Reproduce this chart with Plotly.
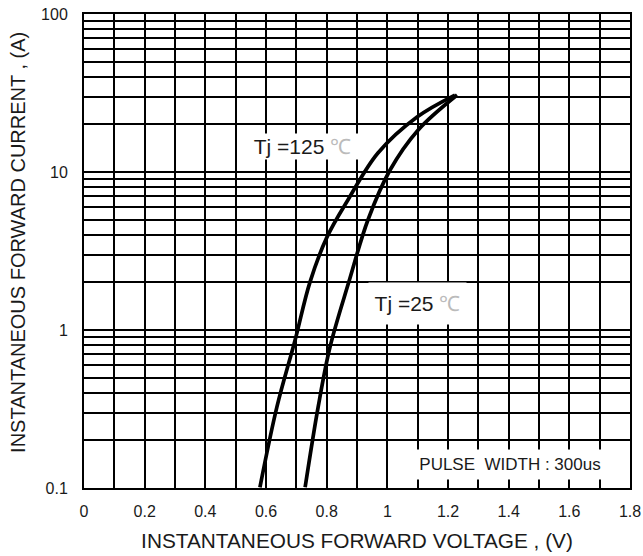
import plotly.graph_objects as go

# Data
v_125 = [0.580, 0.636, 0.696, 0.745, 0.801, 0.870, 0.969, 1.098, 1.223]
i_125 = [0.101, 0.326, 0.864, 2.01, 3.87, 6.65, 13.2, 22.3, 30.7]
v_25 = [0.729, 0.772, 0.811, 0.874, 0.936, 1.009, 1.101, 1.230]
i_25 = [0.101, 0.326, 0.78, 2.04, 4.97, 10.3, 18.4, 30.7]

x_grid = [round(0.1 * k, 1) for k in range(19)]
x_labels = ["0", "", "0.2", "", "0.4", "", "0.6", "", "0.8", "", "1", "", "1.2", "", "1.4", "", "1.6", "", "1.8"]
y_grid = [m * 10 ** e for e in (-1, 0, 1) for m in range(1, 10)] + [100]
y_labels = []
for val in y_grid:
    y_labels.append({0.1: "0.1", 1: "1", 10: "10", 100: "100"}.get(round(val, 6), ""))

font = "Liberation Sans, Arial, sans-serif"
txt = "#1a1a1a"

fig = go.Figure()
fig.add_trace(go.Scatter(x=v_125, y=i_125, mode="lines",
                         line=dict(color="black", width=3.7, shape="spline", smoothing=1.0),
                         showlegend=False))
fig.add_trace(go.Scatter(x=v_25, y=i_25, mode="lines",
                         line=dict(color="black", width=3.7, shape="spline", smoothing=1.0),
                         showlegend=False))

deg = '<span style="color:#bbbbbb">℃</span>'
fig.add_annotation(x=0.719, y=1.161, xref="x", yref="y", text="Tj =125 " + deg,
                   showarrow=False, bgcolor="white", width=115, height=23,
                   font=dict(family=font, size=21, color=txt))
fig.add_annotation(x=1.098, y=0.168, xref="x", yref="y", text="Tj =25 " + deg,
                   showarrow=False, bgcolor="white", width=95, height=39,
                   font=dict(family=font, size=21, color=txt))
fig.add_annotation(x=1.405, y=-0.851, xref="x", yref="y", text="PULSE  WIDTH : 300us",
                   showarrow=False, bgcolor="white", width=206, height=27,
                   font=dict(family=font, size=17, color=txt))
# y-axis title
fig.add_annotation(x=-0.121, y=0.519, xref="paper", yref="paper",
                   text="INSTANTANEOUS FORWARD CURRENT , (A)", textangle=-90,
                   showarrow=False, xanchor="center", yanchor="middle",
                   font=dict(family=font, size=20, color=txt))

fig.update_xaxes(range=[0, 1.8], tickvals=x_grid, ticktext=x_labels,
                 showgrid=True, gridcolor="black", gridwidth=1.5,
                 showline=True, linecolor="black", linewidth=2, mirror=True,
                 zeroline=False, ticks="", ticklabelstandoff=8, automargin=False,
                 tickfont=dict(family=font, size=16, color=txt),
                 title=dict(text="INSTANTANEOUS FORWARD VOLTAGE , (V)", standoff=14,
                            font=dict(family=font, size=20.8, color=txt)))
fig.update_yaxes(type="log", range=[-1, 2], tickvals=y_grid, ticktext=y_labels,
                 showgrid=True, gridcolor="black", gridwidth=1.5,
                 showline=True, linecolor="black", linewidth=2, mirror=True,
                 zeroline=False, ticks="", ticklabelstandoff=11, automargin=False,
                 tickfont=dict(family=font, size=16, color=txt))

fig.update_layout(width=643, height=556, margin=dict(l=84, r=13, t=14, b=68),
                  plot_bgcolor="white", paper_bgcolor="white")

fig.write_html("out.html", config={"displayModeBar": False},
               post_script="document.body.style.margin='0';document.body.style.overflow='hidden';")
